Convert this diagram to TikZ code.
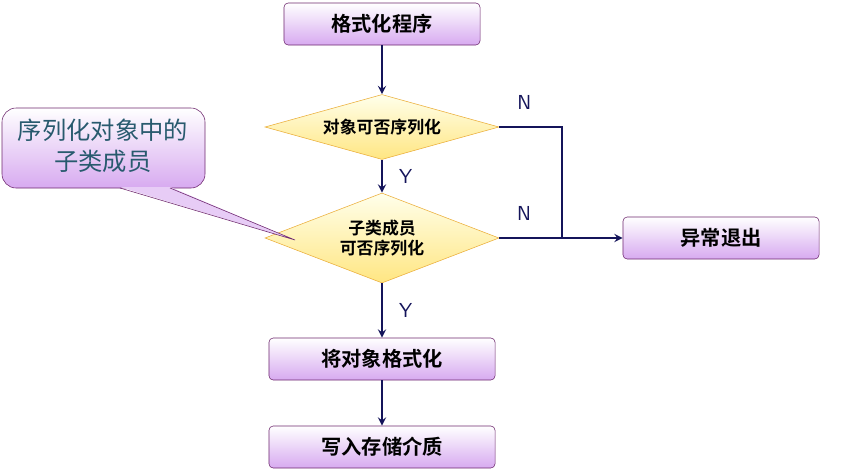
\documentclass[tikz,border=0pt]{standalone}
\usepackage{fontspec}
\setmainfont{Noto Sans CJK SC}[BoldFont={Noto Sans CJK SC Bold}]
\usetikzlibrary{shapes.geometric, arrows}
\definecolor{boxline}{RGB}{110,40,110}
\definecolor{boxfill}{RGB}{215,170,240}
\definecolor{decline}{RGB}{235,175,60}
\definecolor{decfill}{RGB}{255,230,130}
\definecolor{arrowcol}{RGB}{20,20,90}
\definecolor{notetext}{RGB}{40,90,110}
\tikzstyle{process} = [rectangle, rounded corners=3pt, minimum width=4.9cm, minimum height=1.05cm, text centered, draw=boxline, top color=white, bottom color=boxfill, font=\bfseries\Large]
\tikzstyle{decision} = [diamond, aspect=3.6, inner sep=0pt, minimum width=5.85cm, text centered, draw=decline, top color=yellow!8, bottom color=decfill, align=center, font=\bfseries\large]
\tikzstyle{arrow} = [line width=1.6pt, draw=arrowcol, ->, >=stealth]
\tikzstyle{lbl} = [font=\sffamily\Large, text=arrowcol]
\begin{document}
\begin{tikzpicture}[x=0.025cm, y=-0.025cm]
\useasboundingbox (0,0) rectangle (853,474);
\node (fmt) [process] at (382,24) {格式化程序};
\node (obj) [decision, minimum height=1.625cm] at (382,127) {对象可否序列化};
\node (sub) [decision, minimum height=2.25cm] at (382,238) {子类成员\\可否序列化};
\node (exit) [process] at (721,238) {异常退出};
\node (ser) [process, minimum width=5.65cm] at (382,359) {将对象格式化};
\node (save) [process, minimum width=5.65cm] at (382,447) {写入存储介质};
\coordinate (turn) at (562,127);

% callout
\draw [boxline, top color=white, bottom color=boxfill, rounded corners=10pt]
  (2,108) rectangle (205,188);
\fill [boxfill!60] (120,187) -- (170,187) -- (295,240) -- cycle;
\draw [boxline] (120,188) -- (295,240) -- (170,188);
\node (note) [text=notetext, font=\LARGE, align=center] at (103,146) {序列化对象中的\\子类成员};

\draw [arrow] (fmt) -- (obj);
\draw [arrow] (obj) -- node[lbl, right=8pt] {Y} (sub);
\draw [line width=1.6pt, arrowcol] (obj.east) -- node[lbl, above=8pt, pos=0.4] {N} (turn) -- (turn |- exit);
\draw [arrow] (sub.east) -- node[lbl, above=8pt, pos=0.2] {N} (exit);
\draw [arrow] (sub) -- node[lbl, right=8pt] {Y} (ser);
\draw [arrow] (ser) -- (save);
\end{tikzpicture}
\end{document}
